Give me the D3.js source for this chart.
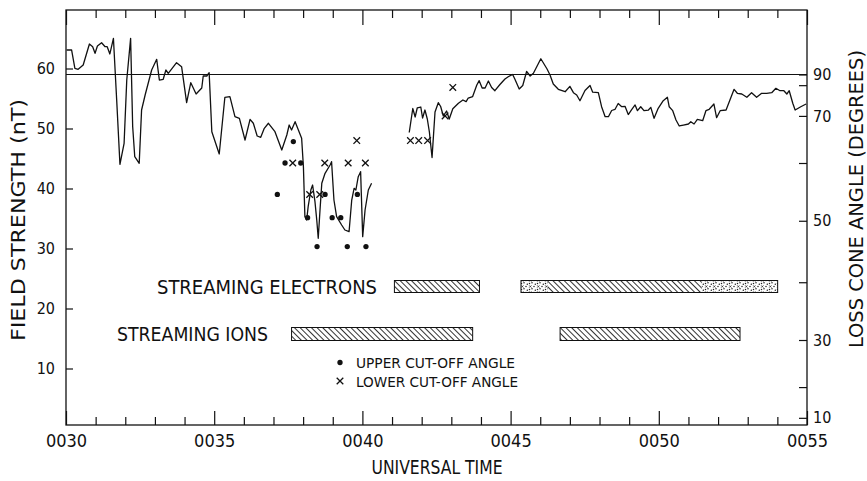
<!DOCTYPE html>
<html>
<head>
<meta charset="utf-8">
<script src="https://cdn.jsdelivr.net/npm/d3@7"></script>
<style>
  body { margin: 0; background: #fff; }
  text { font-family: "DejaVu Sans Condensed", "DejaVu Sans", sans-serif; fill: #111; }
</style>
</head>
<body>
<div id="chart"></div>
<script>
// field strength trace, [minutes after 0000 UT, nT]
const trace1 = [[30.02,63.08],[30.19,63.08],[30.30,60.03],[30.41,59.87],[30.58,60.58],[30.79,64.08],[30.90,63.63],[30.98,62.53],[31.06,63.75],[31.20,64.30],[31.32,63.63],[31.39,63.63],[31.48,62.42],[31.60,65.03],[31.71,54.75],[31.82,44.03],[31.96,47.53],[32.05,58.08],[32.18,65.03],[32.25,50.30],[32.32,45.30],[32.47,44.20],[32.55,53.08],[32.67,55.58],[32.89,59.75],[33.06,61.53],[33.15,58.08],[33.28,58.20],[33.37,59.75],[33.45,59.20],[33.73,60.97],[33.90,60.30],[34.07,54.30],[34.21,57.63],[34.39,55.75],[34.58,56.75],[34.63,58.75],[34.75,58.75],[34.83,59.30],[34.92,49.47],[35.17,45.75],[35.36,55.20],[35.53,55.30],[35.70,51.97],[35.85,51.70],[36.04,48.08],[36.21,51.53],[36.32,50.87],[36.45,48.75],[36.57,48.53],[36.69,50.03],[36.83,50.87],[37.05,49.47],[37.28,46.42],[37.45,48.92],[37.53,50.58],[37.61,49.75],[37.73,51.13],[37.84,49.75],[37.95,48.37],[38.01,43.63],[38.06,35.30],[38.12,34.75],[38.17,36.97],[38.26,39.75],[38.32,40.58],[38.40,37.80],[38.46,34.75],[38.51,31.70],[38.57,36.42],[38.63,40.87],[38.74,42.53],[38.91,43.92],[38.96,44.47],[39.04,38.08],[39.13,35.30],[39.30,33.92],[39.41,33.08],[39.55,32.80],[39.64,38.08],[39.72,40.03],[39.78,39.75],[39.86,41.97],[39.94,42.80],[40.01,31.97],[40.09,36.42],[40.20,39.75],[40.31,40.87]];

const trace2 = [[41.58,49.33],[41.70,53.33],[41.78,51.92],[41.85,53.42],[41.97,53.58],[42.03,51.75],[42.11,53.08],[42.19,51.58],[42.26,49.42],[42.35,45.17],[42.45,52.75],[42.56,54.30],[42.64,53.67],[42.73,52.08],[42.84,52.92],[42.93,51.58],[43.05,53.28],[43.24,54.20],[43.39,54.75],[43.50,54.47],[43.57,55.08],[43.72,55.33],[43.86,57.25],[43.94,57.97],[44.04,56.75],[44.14,56.75],[44.25,57.92],[44.36,56.83],[44.47,56.30],[44.64,57.33],[44.81,58.25],[44.92,58.63],[45.07,59.00],[45.15,58.17],[45.29,56.58],[45.41,57.17],[45.54,59.50],[45.66,58.75],[45.77,59.20],[46.02,61.62],[46.23,59.92],[46.33,58.92],[46.44,57.42],[46.61,56.53],[46.84,56.13],[47.00,57.03],[47.12,55.97],[47.23,55.58],[47.34,54.63],[47.51,56.33],[47.68,57.17],[47.77,56.05],[47.96,55.97],[48.07,53.63],[48.19,51.97],[48.30,51.97],[48.41,53.00],[48.52,53.17],[48.63,54.17],[48.75,53.63],[48.86,53.70],[48.97,52.33],[49.09,53.20],[49.20,53.92],[49.28,52.97],[49.39,53.63],[49.50,52.97],[49.65,53.08],[49.73,53.53],[49.84,51.70],[49.98,53.37],[50.15,54.63],[50.29,55.20],[50.35,53.63],[50.47,52.97],[50.58,51.42],[50.69,50.42],[50.83,50.58],[51.00,50.75],[51.08,51.13],[51.19,50.75],[51.30,51.53],[51.48,51.30],[51.59,52.97],[51.70,53.20],[51.86,54.08],[51.95,51.80],[52.07,52.97],[52.27,53.08],[52.40,54.75],[52.54,56.53],[52.65,55.87],[52.80,55.75],[52.97,55.20],[53.13,55.97],[53.30,55.20],[53.47,55.87],[53.64,55.87],[53.81,55.97],[53.95,56.70],[54.09,56.30],[54.22,56.30],[54.32,55.75],[54.40,56.30],[54.52,54.20],[54.60,53.08],[54.79,53.63],[54.97,54.08]];

// cut-off angles, [minutes, degrees]
const upperCut = [[37.13,54.4],[37.39,60.0],[37.67,64.2],[37.92,60.0],[38.15,50.5],[38.47,45.8],[38.74,54.4],[38.98,50.5],[39.27,50.5],[39.49,45.8],[39.83,54.4],[40.12,45.8]];
const lowerCut = [[37.65,60.0],[38.22,54.4],[38.56,54.4],[38.73,60.0],[39.52,60.0],[39.81,64.4],[40.10,60.0],[41.62,64.4],[41.90,64.4],[42.20,64.4],[42.79,70.0],[43.05,79.0]];

// streaming intervals, [from, to] in minutes
const electronBars = [[41.08,43.95],[45.35,54.01]];
const electronStipple = [[45.35,46.25],[51.45,54.01]];
const ionBars = [[37.61,43.72],[46.67,52.74]];

const timeTicks = d3.range(30, 56);
const majorTimes = [30, 35, 40, 45, 50, 55];
const fieldTicks = [10, 20, 30, 40, 50, 60];
const angleTicks = [10, 20, 30, 40, 50, 60, 70, 80, 90];
const angleLabels = [10, 30, 50, 70, 90];
const BMAX = 59;

const width = 867, height = 481;
const plotTop = 10, plotBottom = 425;

const svg = d3.select("#chart").append("svg")
    .attr("width", width)
    .attr("height", height);

const x = d3.scaleLinear().domain([30, 55]).range([66, 807]);
const y = d3.scaleLinear().domain([0, 70]).range([428.5, 8.5]);
const toField = a => BMAX * Math.pow(Math.sin(a * Math.PI / 180), 2);

// patterns
const defs = svg.append("defs");
const hatch = defs.append("pattern")
    .attr("id", "hatch")
    .attr("patternUnits", "userSpaceOnUse")
    .attr("width", 4).attr("height", 4)
    .attr("patternTransform", "rotate(-45)");
hatch.append("rect").attr("width", 4).attr("height", 4).attr("fill", "#fff");
hatch.append("line")
    .attr("x1", 0.5).attr("y1", 0).attr("x2", 0.5).attr("y2", 4)
    .attr("stroke", "#333").attr("stroke-width", 1);

const stip = defs.append("pattern")
    .attr("id", "stipple")
    .attr("patternUnits", "userSpaceOnUse")
    .attr("width", 8).attr("height", 6);
stip.append("rect").attr("width", 8).attr("height", 6).attr("fill", "#fff");
[[1.5, 1.5], [6, 4.5], [4, 0.8], [7.3, 2.2]].forEach(p => {
    stip.append("circle").attr("cx", p[0]).attr("cy", p[1]).attr("r", 0.75).attr("fill", "#222");
});
stip.append("path").attr("d", "M1.2,3.4 l2.2,2.2 m0,-2.2 l-2.2,2.2").attr("stroke", "#222").attr("stroke-width", 0.8);

const styleAxis = (g, size) => {
    g.select(".domain").remove();
    g.selectAll(".tick line").attr("stroke", "#111").attr("stroke-width", 1.2);
    g.attr("font-size", size)
     .attr("font-family", '"DejaVu Sans Condensed", "DejaVu Sans", sans-serif');
    g.selectAll("text").attr("fill", "#111");
};

const minorTimes = timeTicks.filter(t => !majorTimes.includes(t));

// bottom axis
svg.append("g").attr("transform", `translate(0,${plotBottom})`)
    .call(d3.axisBottom(x).tickValues(minorTimes).tickSize(-8).tickFormat(""))
    .call(g => styleAxis(g, 18));
svg.append("g").attr("transform", `translate(0,${plotBottom})`)
    .call(d3.axisBottom(x).tickValues(majorTimes).tickSize(-14).tickPadding(9).tickFormat(d => "00" + d))
    .call(g => styleAxis(g, 18));

// top axis
svg.append("g").attr("transform", `translate(0,${plotTop})`)
    .call(d3.axisTop(x).tickValues(minorTimes).tickSize(-8).tickFormat(""))
    .call(g => styleAxis(g, 18));
svg.append("g").attr("transform", `translate(0,${plotTop})`)
    .call(d3.axisTop(x).tickValues(majorTimes).tickSize(-15).tickFormat(""))
    .call(g => styleAxis(g, 18));

// left axis
svg.append("g").attr("transform", `translate(${x(30)},0)`)
    .call(d3.axisLeft(y).tickValues(fieldTicks).tickSize(-7).tickPadding(11))
    .call(g => styleAxis(g, 16));

// right axis, loss cone angle
svg.append("g").attr("transform", `translate(${x(55)},0)`)
    .call(d3.axisRight(y).tickValues(angleTicks.map(toField)).tickSize(-8).tickPadding(6)
        .tickFormat((b, i) => angleLabels.includes(angleTicks[i]) ? angleTicks[i] : ""))
    .call(g => styleAxis(g, 16));

// frame
svg.append("rect")
    .attr("x", x(30)).attr("y", plotTop)
    .attr("width", x(55) - x(30)).attr("height", plotBottom - plotTop)
    .attr("fill", "none").attr("stroke", "#111").attr("stroke-width", 1.3);

// 90 degree line
svg.append("line")
    .attr("x1", x(30)).attr("x2", x(55))
    .attr("y1", y(BMAX)).attr("y2", y(BMAX))
    .attr("stroke", "#111").attr("stroke-width", 1.1);

// trace
const line = d3.line().x(d => x(d[0])).y(d => y(d[1]));
[trace1, trace2].forEach(tr => {
    svg.append("path")
        .datum(tr)
        .attr("d", line)
        .attr("fill", "none")
        .attr("stroke", "#111")
        .attr("stroke-width", 1.3)
        .attr("stroke-linejoin", "round");
});

// cut-off markers
const dot = d3.symbol(d3.symbolCircle, 22);
const cross = d3.symbol(d3.symbolTimes, 30);
svg.append("g").selectAll("path")
    .data(upperCut)
    .enter().append("path")
    .attr("transform", d => `translate(${x(d[0])},${y(toField(d[1]))})`)
    .attr("d", dot)
    .attr("fill", "#111");
svg.append("g").selectAll("path")
    .data(lowerCut)
    .enter().append("path")
    .attr("transform", d => `translate(${x(d[0])},${y(toField(d[1]))})`)
    .attr("d", cross)
    .attr("fill", "none")
    .attr("stroke", "#111")
    .attr("stroke-width", 1.3);

// streaming bars
const drawBars = (bars, y0, h, stipple) => {
    const g = svg.append("g");
    g.selectAll("rect.b")
        .data(bars)
        .enter().append("rect")
        .attr("class", "b")
        .attr("x", d => x(d[0]))
        .attr("width", d => x(d[1]) - x(d[0]))
        .attr("y", y0).attr("height", h)
        .attr("fill", "url(#hatch)");
    g.selectAll("rect.s")
        .data(stipple)
        .enter().append("rect")
        .attr("class", "s")
        .attr("x", d => x(d[0]))
        .attr("width", d => x(d[1]) - x(d[0]))
        .attr("y", y0).attr("height", h)
        .attr("fill", "url(#stipple)");
    g.selectAll("rect.o")
        .data(bars)
        .enter().append("rect")
        .attr("class", "o")
        .attr("x", d => x(d[0]))
        .attr("width", d => x(d[1]) - x(d[0]))
        .attr("y", y0).attr("height", h)
        .attr("fill", "none")
        .attr("stroke", "#111")
        .attr("stroke-width", 1);
};
drawBars(electronBars, 280.5, 12, electronStipple);
drawBars(ionBars, 327.5, 13, []);

svg.append("text")
    .attr("x", 377).attr("y", 293.5)
    .attr("text-anchor", "end")
    .attr("font-size", 19)
    .attr("textLength", 220).attr("lengthAdjust", "spacingAndGlyphs")
    .text("STREAMING ELECTRONS");
svg.append("text")
    .attr("x", 268).attr("y", 340.5)
    .attr("text-anchor", "end")
    .attr("font-size", 19)
    .attr("textLength", 151).attr("lengthAdjust", "spacingAndGlyphs")
    .text("STREAMING IONS");

// legend
svg.append("path")
    .attr("transform", "translate(340,362.5)")
    .attr("d", dot).attr("fill", "#111");
svg.append("path")
    .attr("transform", "translate(340,381)")
    .attr("d", cross).attr("fill", "none").attr("stroke", "#111").attr("stroke-width", 1.3);
svg.append("text")
    .attr("x", 356).attr("y", 368)
    .attr("font-size", 14.5)
    .attr("textLength", 159).attr("lengthAdjust", "spacingAndGlyphs")
    .text("UPPER CUT-OFF ANGLE");
svg.append("text")
    .attr("x", 356).attr("y", 386.5)
    .attr("font-size", 14.5)
    .attr("textLength", 162).attr("lengthAdjust", "spacingAndGlyphs")
    .text("LOWER CUT-OFF ANGLE");

// axis titles
svg.append("text")
    .attr("x", 437).attr("y", 474)
    .attr("text-anchor", "middle")
    .attr("font-size", 19)
    .attr("textLength", 131).attr("lengthAdjust", "spacingAndGlyphs")
    .text("UNIVERSAL TIME");
svg.append("text")
    .attr("transform", "translate(25,220) rotate(-90)")
    .attr("text-anchor", "middle")
    .attr("font-size", 19)
    .attr("textLength", 242).attr("lengthAdjust", "spacingAndGlyphs")
    .text("FIELD STRENGTH (nT)");
svg.append("text")
    .attr("transform", "translate(863,199) rotate(-90)")
    .attr("text-anchor", "middle")
    .attr("font-size", 19)
    .attr("textLength", 298).attr("lengthAdjust", "spacingAndGlyphs")
    .text("LOSS CONE ANGLE (DEGREES)");
</script>
</body>
</html>
